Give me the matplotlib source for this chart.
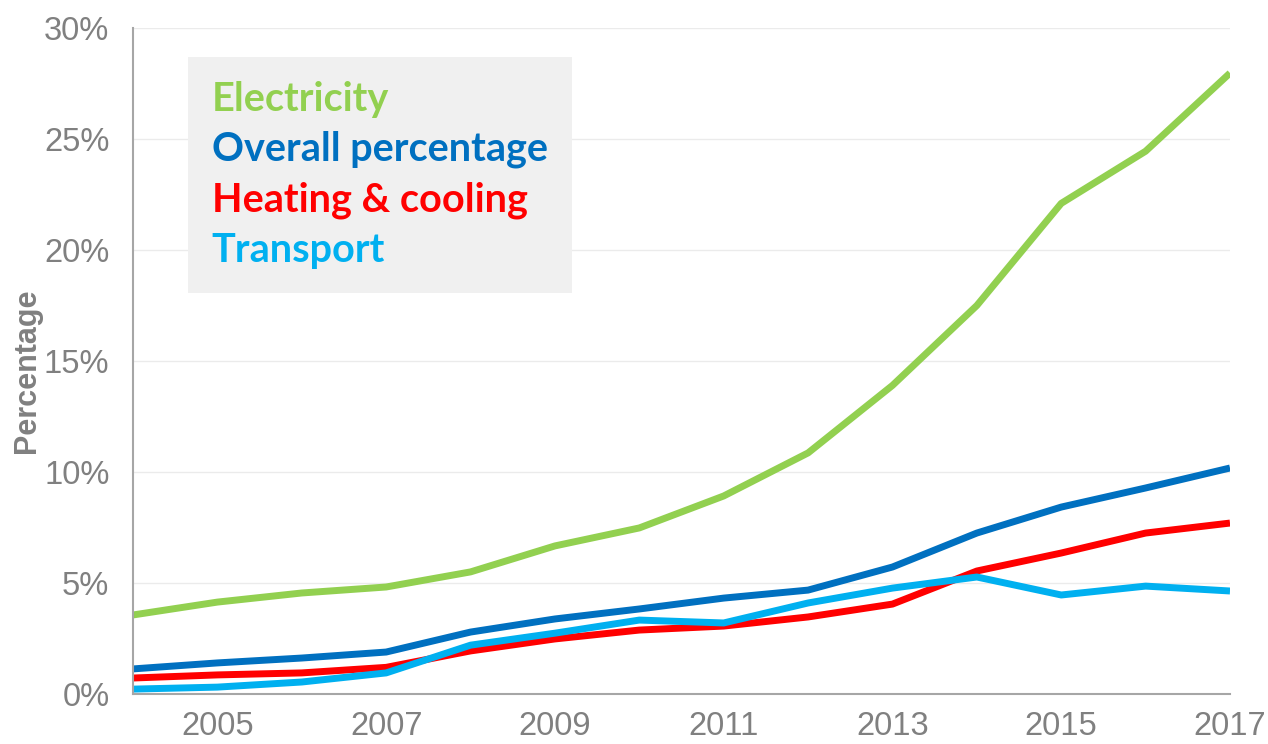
import matplotlib.pyplot as plt
from matplotlib.ticker import PercentFormatter

years = list(range(2004, 2018))
electricity = [3.56, 4.14, 4.55, 4.82, 5.5, 6.67, 7.48, 8.92, 10.86, 13.9, 17.5, 22.1, 24.45, 27.97]
overall = [1.13, 1.4, 1.62, 1.89, 2.79, 3.38, 3.83, 4.32, 4.68, 5.72, 7.25, 8.42, 9.28, 10.18]
heating_cooling = [0.72, 0.86, 0.95, 1.2, 1.94, 2.48, 2.88, 3.06, 3.47, 4.05, 5.54, 6.35, 7.25, 7.7]
transport = [0.22, 0.31, 0.54, 0.95, 2.2, 2.74, 3.33, 3.2, 4.1, 4.77, 5.27, 4.46, 4.86, 4.64]

series = [
    ("Electricity", electricity, "#92D050"),
    ("Overall percentage", overall, "#0070C0"),
    ("Heating & cooling", heating_cooling, "#FF0000"),
    ("Transport", transport, "#00B0F0"),
]

fig = plt.figure(figsize=(12.68, 7.44), dpi=100)
ax = fig.add_axes([133 / 1268, 1 - 694 / 744, (1230 - 133) / 1268, (694 - 28) / 744])

for name, vals, color in series:
    ax.plot(years, vals, color=color, linewidth=5, label=name, solid_capstyle="butt")

ax.set_xlim(2004, 2017)
ax.set_ylim(0, 30)
ax.set_xticks(range(2005, 2018, 2))
ax.set_yticks(range(0, 31, 5))
ax.yaxis.set_major_formatter(PercentFormatter(decimals=0))
ax.grid(axis="y", color="#EBEBEB", linewidth=1)
ax.set_axisbelow(True)

for side in ["top", "right"]:
    ax.spines[side].set_visible(False)
for side in ["left", "bottom"]:
    ax.spines[side].set_color("#A6A6A6")
    ax.spines[side].set_linewidth(1.5)

ax.tick_params(length=0, labelsize=23.5, labelcolor="#808080")
ax.tick_params(axis="y", pad=17)
ax.tick_params(axis="x", pad=12)
for lbl in ax.get_xticklabels() + ax.get_yticklabels():
    lbl.set_fontfamily("Liberation Sans")

ax.set_ylabel("Percentage", fontsize=22, fontweight="bold", color="#808080",
              family="Liberation Sans")
ax.yaxis.set_label_coords(-0.083, 0.485)

# legend as coloured text on a grey panel, no line handles
leg = ax.legend(loc="upper left", bbox_to_anchor=(188 / 1268, 1 - 57 / 744),
                bbox_transform=fig.transFigure, borderaxespad=0,
                handlelength=0, handletextpad=0,
                labelcolor="linecolor", frameon=True, fancybox=False,
                facecolor="#F0F0F0", edgecolor="none", framealpha=1,
                borderpad=0.6, labelspacing=0.33,
                prop={"family": "Lato", "weight": "bold", "size": 28.5})
for h in leg.legend_handles:
    h.set_visible(False)

fig.savefig("out.png", dpi=100)
